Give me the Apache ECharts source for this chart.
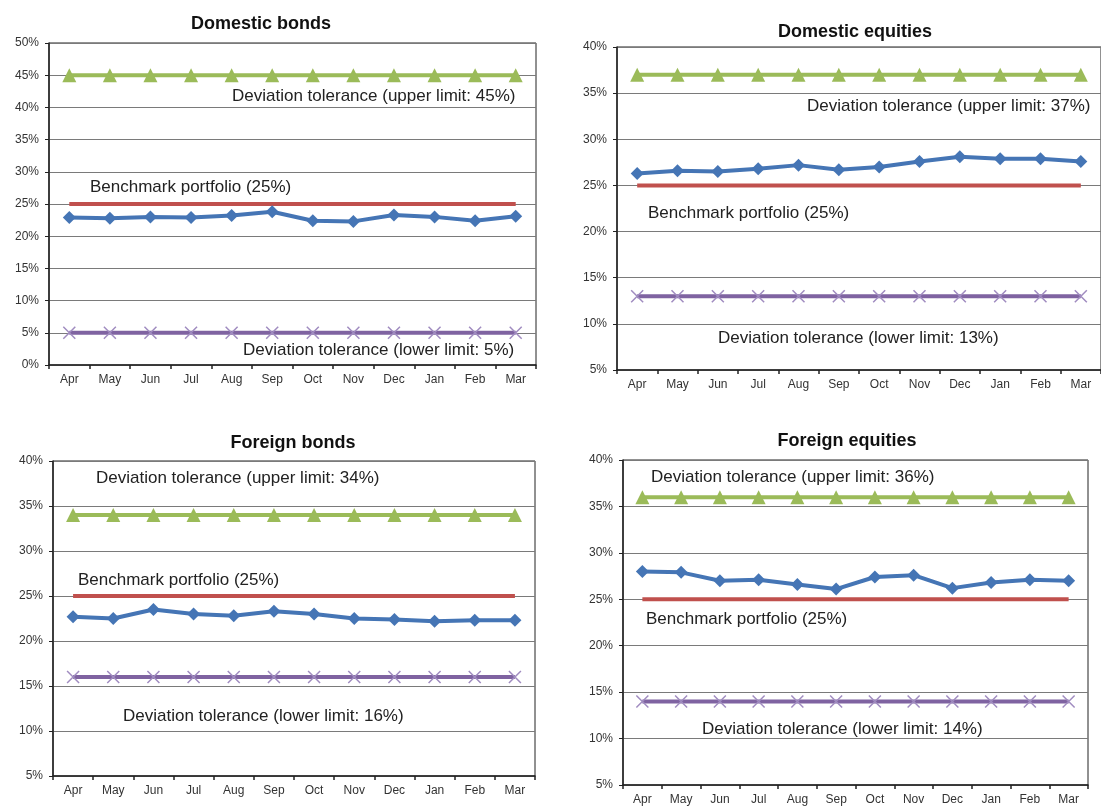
<!DOCTYPE html>
<html>
<head>
<meta charset="utf-8">
<script src="https://cdn.jsdelivr.net/npm/echarts@6/dist/echarts.min.js"></script>
<style>
  html, body { margin: 0; padding: 0; background: #fff; }
  #chart { width: 1101px; height: 807px; }
</style>
</head>
<body>
<div id="chart"></div>
<script>
const months = ['Apr', 'May', 'Jun', 'Jul', 'Aug', 'Sep', 'Oct', 'Nov', 'Dec', 'Jan', 'Feb', 'Mar'];

// Domestic bonds
const domBondsActual = [22.9, 22.8, 23.0, 22.9, 23.2, 23.8, 22.4, 22.3, 23.3, 23.0, 22.4, 23.1];
const domBondsBench = [25, 25, 25, 25, 25, 25, 25, 25, 25, 25, 25, 25];
const domBondsUpper = [45, 45, 45, 45, 45, 45, 45, 45, 45, 45, 45, 45];
const domBondsLower = [5, 5, 5, 5, 5, 5, 5, 5, 5, 5, 5, 5];

// Domestic equities
const domEqActual = [26.3, 26.6, 26.5, 26.8, 27.2, 26.7, 27.0, 27.6, 28.1, 27.9, 27.9, 27.6];
const domEqBench = [25, 25, 25, 25, 25, 25, 25, 25, 25, 25, 25, 25];
const domEqUpper = [37, 37, 37, 37, 37, 37, 37, 37, 37, 37, 37, 37];
const domEqLower = [13, 13, 13, 13, 13, 13, 13, 13, 13, 13, 13, 13];

// Foreign bonds
const forBondsActual = [22.7, 22.5, 23.5, 23.0, 22.8, 23.3, 23.0, 22.5, 22.4, 22.2, 22.3, 22.3];
const forBondsBench = [25, 25, 25, 25, 25, 25, 25, 25, 25, 25, 25, 25];
const forBondsUpper = [34, 34, 34, 34, 34, 34, 34, 34, 34, 34, 34, 34];
const forBondsLower = [16, 16, 16, 16, 16, 16, 16, 16, 16, 16, 16, 16];

// Foreign equities
const forEqActual = [28.0, 27.9, 27.0, 27.1, 26.6, 26.1, 27.4, 27.6, 26.2, 26.8, 27.1, 27.0];
const forEqBench = [25, 25, 25, 25, 25, 25, 25, 25, 25, 25, 25, 25];
const forEqUpper = [36, 36, 36, 36, 36, 36, 36, 36, 36, 36, 36, 36];
const forEqLower = [14, 14, 14, 14, 14, 14, 14, 14, 14, 14, 14, 14];

const panels = [
  { title: 'Domestic bonds', actual: domBondsActual, bench: domBondsBench, upper: domBondsUpper, lower: domBondsLower,
    min: 0, max: 50, upperText: 'Deviation tolerance (upper limit: 45%)', lowerText: 'Deviation tolerance (lower limit: 5%)' },
  { title: 'Domestic equities', actual: domEqActual, bench: domEqBench, upper: domEqUpper, lower: domEqLower,
    min: 5, max: 40, upperText: 'Deviation tolerance (upper limit: 37%)', lowerText: 'Deviation tolerance (lower limit: 13%)' },
  { title: 'Foreign bonds', actual: forBondsActual, bench: forBondsBench, upper: forBondsUpper, lower: forBondsLower,
    min: 5, max: 40, upperText: 'Deviation tolerance (upper limit: 34%)', lowerText: 'Deviation tolerance (lower limit: 16%)' },
  { title: 'Foreign equities', actual: forEqActual, bench: forEqBench, upper: forEqUpper, lower: forEqLower,
    min: 5, max: 40, upperText: 'Deviation tolerance (upper limit: 36%)', lowerText: 'Deviation tolerance (lower limit: 14%)' }
];

// layout (pixels)
const grids = [
  { left: 49, top: 43, width: 487, height: 322 },
  { left: 617, top: 47, width: 492, height: 323 },
  { left: 53, top: 461, width: 482, height: 315 },
  { left: 623, top: 460, width: 465, height: 325 }
];
const titlePos = [[256, 10], [850, 18], [288, 429], [842, 427]];
const notePos = [
  { upper: [232, 96], bench: [90, 187], lower: [243, 350] },
  { upper: [807, 106], bench: [648, 213], lower: [718, 338] },
  { upper: [96, 478], bench: [78, 580], lower: [123, 716] },
  { upper: [651, 477], bench: [646, 619], lower: [702, 729] }
];

const FONT = '"Liberation Sans", Arial, sans-serif';
const crossPath = 'path://M0,0L10,10M10,0L0,10';

const chart = echarts.init(document.getElementById('chart'));

const option = {
  animation: false,
  backgroundColor: '#fff',
  title: panels.map((p, i) => ({
    text: p.title,
    left: titlePos[i][0],
    top: titlePos[i][1],
    textAlign: 'center',
    textStyle: { fontFamily: FONT, fontSize: 18, fontWeight: 'bold', color: '#111' }
  })),
  grid: grids.map(g => ({
    ...g, show: true, borderColor: '#222', borderWidth: 1, backgroundColor: '#fff', containLabel: false
  })),
  xAxis: panels.map((p, i) => ({
    type: 'category',
    gridIndex: i,
    data: months,
    boundaryGap: true,
    axisLine: { lineStyle: { color: '#222', width: 1.5 } },
    axisTick: { show: true, inside: false, length: 4, lineStyle: { color: '#222', width: 1.5 } },
    axisLabel: { fontFamily: FONT, fontSize: 12, color: '#333', margin: 9 },
    splitLine: { show: false }
  })),
  yAxis: panels.map((p, i) => ({
    type: 'value',
    gridIndex: i,
    min: p.min,
    max: p.max,
    interval: 5,
    axisLine: { show: true, lineStyle: { color: '#222', width: 1.5 } },
    axisTick: { show: true, inside: false, length: 4, lineStyle: { color: '#222' } },
    axisLabel: { fontFamily: FONT, fontSize: 12, color: '#333', margin: 10, formatter: '{value}%' },
    splitLine: { show: true, lineStyle: { color: '#7a7a7a', width: 1 } }
  })),
  series: panels.flatMap((p, i) => [
    {
      name: 'Upper limit', type: 'line', xAxisIndex: i, yAxisIndex: i, data: p.upper,
      symbol: 'triangle', symbolSize: 14,
      lineStyle: { color: '#9bbb59', width: 4 },
      itemStyle: { color: '#9bbb59' }, z: 3
    },
    {
      name: 'Lower limit', type: 'line', xAxisIndex: i, yAxisIndex: i, data: p.lower,
      symbol: crossPath, symbolSize: 12,
      lineStyle: { color: '#7f63a1', width: 4 },
      itemStyle: { color: 'none', borderColor: '#a08cc0', borderWidth: 1.5 }, z: 3
    },
    {
      name: 'Benchmark', type: 'line', xAxisIndex: i, yAxisIndex: i, data: p.bench,
      symbol: 'none',
      lineStyle: { color: '#c0504d', width: 4 }, z: 4
    },
    {
      name: 'Actual', type: 'line', xAxisIndex: i, yAxisIndex: i, data: p.actual,
      symbol: 'diamond', symbolSize: 13,
      lineStyle: { color: '#4575b5', width: 4 },
      itemStyle: { color: '#4575b5' }, z: 5
    }
  ]),
  graphic: panels.flatMap((p, i) => {
    const n = notePos[i];
    const mk = (txt, pos) => ({
      type: 'text', x: pos[0], y: pos[1], z: 10,
      style: { text: txt, font: '17px ' + FONT, fill: '#222', textVerticalAlign: 'middle' }
    });
    return [mk(p.upperText, n.upper), mk('Benchmark portfolio (25%)', n.bench), mk(p.lowerText, n.lower)];
  })
};

chart.setOption(option);
</script>
</body>
</html>
